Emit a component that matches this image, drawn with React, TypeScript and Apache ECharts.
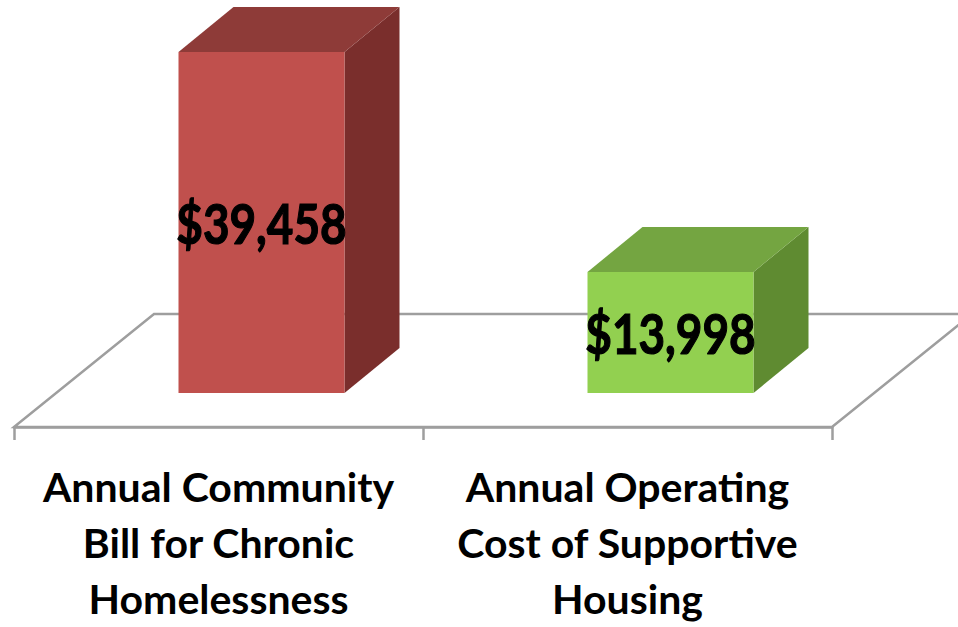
import React, { useEffect, useRef } from "react";
import * as echarts from "echarts";

const categories: string[] = [
  "Annual Community\nBill for Chronic\nHomelessness",
  "Annual Operating\nCost of Supportive\nHousing",
];
const costValues: number[] = [39458, 13998];

const FRONT_COLORS = ["#C0504D", "#92D050"];
const TOP_COLORS = ["#8E3B38", "#74A541"];
const SIDE_COLORS = ["#7A2E2C", "#5F8B31"];

export default function App() {
  const ref = useRef<HTMLDivElement>(null);

  useEffect(() => {
    if (!ref.current) return;
    const chart = echarts.init(ref.current, undefined, { renderer: "svg" });

    const DEPTH_X = 55;
    const DEPTH_Y = 45;
    const SHIFT_X = 43;
    const SHIFT_Y = 34;
    const HALF_W = 83;
    const FLOOR_DX = 140;
    const FLOOR_DY = 113;

    const option: any = {
      animation: false,
      backgroundColor: "#ffffff",
      grid: { left: 14, right: 126, top: 38, bottom: 200, containLabel: false },
      xAxis: {
        type: "category",
        data: categories,
        boundaryGap: true,
        axisLine: { show: true, lineStyle: { color: "#9e9e9e", width: 2.5 } },
        axisTick: { show: true, length: 13, lineStyle: { color: "#9e9e9e", width: 2.5 } },
        axisLabel: {
          interval: 0,
          margin: 31,
          color: "#000",
          fontFamily: "Lato",
          fontWeight: "bold",
          fontSize: 41,
          lineHeight: 56,
          align: "center",
        },
        splitLine: { show: false },
        z: 5,
      },
      yAxis: {
        type: "value",
        min: 0,
        max: 45000,
        show: false,
      },
      series: [
        {
          type: "custom",
          name: "floor",
          clip: false,
          z: 1,
          silent: true,
          data: [[0, 0]],
          renderItem: (params: any, api: any) => {
            const p0 = api.coord([0, 0]);
            const bw = api.size([1, 0])[0];
            const left = p0[0] - bw / 2;
            const right = left + bw * categories.length;
            const y = p0[1];
            return {
              type: "polygon",
              shape: {
                points: [
                  [left, y],
                  [right, y],
                  [right + FLOOR_DX, y - FLOOR_DY],
                  [left + FLOOR_DX, y - FLOOR_DY],
                ],
              },
              style: { fill: "#ffffff", stroke: "#9e9e9e", lineWidth: 2.5 },
            };
          },
        },
        {
          type: "custom",
          name: "cost",
          clip: false,
          z: 10,
          data: costValues.map((v, i) => [i, v]),
          renderItem: (params: any, api: any) => {
            const i = api.value(0);
            const v = api.value(1);
            const base = api.coord([i, 0]);
            const top = api.coord([i, v]);
            const cx = base[0] + SHIFT_X;
            const y0 = base[1] - SHIFT_Y;
            const y1 = top[1] - SHIFT_Y;
            const xl = cx - HALF_W;
            const xr = cx + HALF_W;
            const idx = params.dataIndex;
            return {
              type: "group",
              children: [
                {
                  type: "polygon",
                  shape: {
                    points: [
                      [xr, y1],
                      [xr + DEPTH_X, y1 - DEPTH_Y],
                      [xr + DEPTH_X, y0 - DEPTH_Y],
                      [xr, y0],
                    ],
                  },
                  style: { fill: SIDE_COLORS[idx] },
                },
                {
                  type: "polygon",
                  shape: {
                    points: [
                      [xl, y1],
                      [xr, y1],
                      [xr + DEPTH_X, y1 - DEPTH_Y],
                      [xl + DEPTH_X, y1 - DEPTH_Y],
                    ],
                  },
                  style: { fill: TOP_COLORS[idx] },
                },
                {
                  type: "rect",
                  shape: { x: xl, y: y1, width: xr - xl, height: y0 - y1 },
                  style: { fill: FRONT_COLORS[idx] },
                },
                {
                  type: "text",
                  x: cx,
                  y: (y0 + y1) / 2,
                  scaleX: 0.82,
                  style: {
                    text: "$" + v.toLocaleString("en-US"),
                    x: 0,
                    y: 0,
                    textAlign: "center",
                    textVerticalAlign: "middle",
                    align: "center",
                    verticalAlign: "middle",
                    fill: "#000",
                    stroke: "#000",
                    lineWidth: 1.2,
                    fontFamily: "Lato",
                    fontWeight: "bold",
                    fontSize: 56,
                  },
                  z2: 20,
                },
              ],
            };
          },
        },
      ],
    };

    chart.setOption(option);
    return () => chart.dispose();
  }, []);

  return (
    <div
      ref={ref}
      style={{ position: "fixed", left: 0, top: 0, width: 958, height: 627 }}
    />
  );
}
